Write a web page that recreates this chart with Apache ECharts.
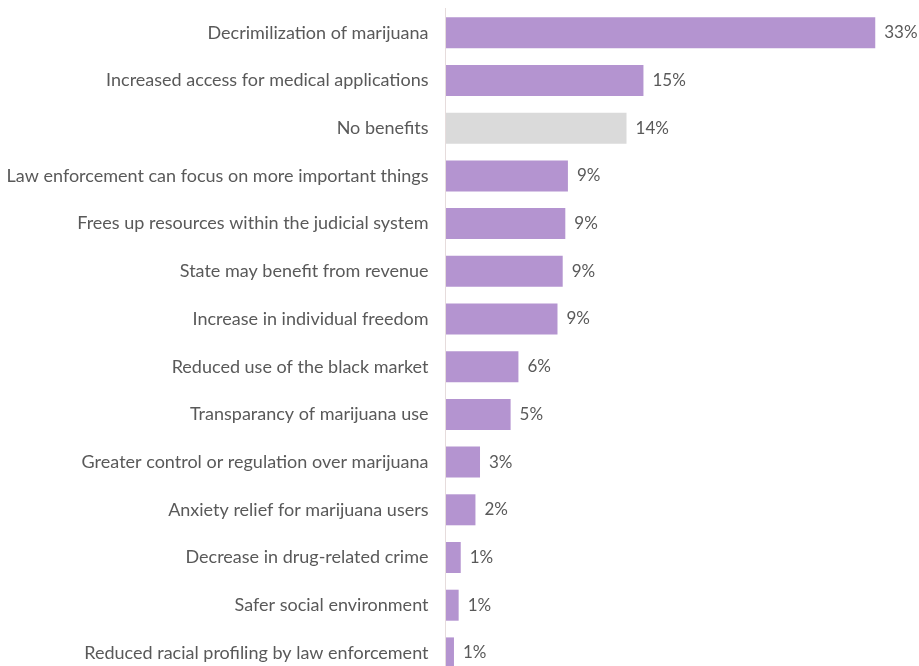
<!DOCTYPE html>
<html>
<head>
<meta charset="utf-8">
<script src="https://cdn.jsdelivr.net/npm/echarts@6/dist/echarts.min.js"></script>
<style>html,body{margin:0;padding:0;background:#fff}#c{width:919px;height:666px}</style>
</head>
<body>
<div id="c"></div>
<script>
var categories = [
  "Decrimilization of marijuana",
  "Increased access for medical applications",
  "No benefits",
  "Law enforcement can focus on more important things",
  "Frees up resources within the judicial system",
  "State may benefit from revenue",
  "Increase in individual freedom",
  "Reduced use of the black market",
  "Transparancy of marijuana use",
  "Greater control or regulation over marijuana",
  "Anxiety relief for marijuana users",
  "Decrease in drug-related crime",
  "Safer social environment",
  "Reduced racial profiling by law enforcement"
];
var values = [33, 15.2, 13.9, 9.4, 9.2, 9.0, 8.6, 5.6, 5.0, 2.65, 2.3, 1.17, 1.01, 0.65];
var valueLabels = ["33%", "15%", "14%", "9%", "9%", "9%", "9%", "6%", "5%", "3%", "2%", "1%", "1%", "1%"];
var highlightCategory = "No benefits";

var purple = "#b494d0";
var grey = "#dadada";

var chart = echarts.init(document.getElementById('c'), null, {renderer: 'canvas'});
chart.setOption({
  animation: false,
  backgroundColor: '#ffffff',
  grid: {left: 445.5, top: 32.8, width: 455.8, height: 620.1, containLabel: false},
  xAxis: {
    type: 'value', min: 0, max: 35,
    axisLine: {show: false}, axisTick: {show: false},
    axisLabel: {show: false}, splitLine: {show: false}
  },
  yAxis: {
    type: 'category', inverse: true, data: categories, boundaryGap: false,
    axisLine: {show: false},
    axisTick: {show: false},
    axisLabel: {margin: 17, color: '#595959', fontSize: 18, fontFamily: 'Lato'}
  },
  series: [{
    type: 'bar',
    barWidth: 31,
    clip: false,
    data: values.map(function (v, i) {
      return {value: v, itemStyle: {color: categories[i] === highlightCategory ? grey : purple}};
    }),
    label: {
      show: true, position: 'right', distance: 9,
      color: '#595959', fontSize: 17, fontFamily: 'Lato',
      formatter: function (p) { return valueLabels[p.dataIndex]; }
    },
    markLine: {
      silent: true, symbol: 'none', label: {show: false},
      lineStyle: {color: '#e6dcdc', width: 1, type: 'solid'},
      data: [[{coord: [0, 0], y: 8}, {coord: [0, 0], y: 666}]]
    }
  }]
});
</script>
</body>
</html>
